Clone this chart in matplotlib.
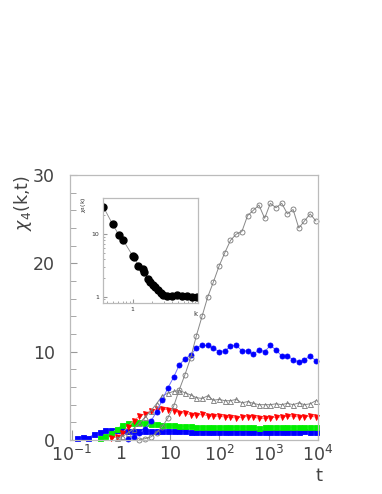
import numpy as np
import matplotlib.pyplot as plt
from matplotlib.ticker import FixedLocator, FixedFormatter, LogLocator, MultipleLocator, NullFormatter

plt.rcParams['font.family'] = ['DejaVu Sans']
plt.rcParams['mathtext.fontset'] = 'dejavusans'

# time grid (log-spaced samples)
t = 10 ** np.linspace(-0.9, 3.96, 43)

# series values, each starting at a grid index
blue_sq = [0.2, 0.3, 0.25, 0.65, 0.9, 1.1, 1.15, 1.15, 1.15, 1.0,
           1.0, 1.0, 0.98, 1.0, 1.0, 0.98, 0.97, 0.97, 0.97, 0.97,
           0.95, 0.95, 0.96, 0.95, 0.95, 0.96, 0.95, 0.95, 0.96, 0.95,
           0.95, 0.95, 0.9, 0.92, 0.95, 0.95, 0.92, 0.95, 0.95, 0.92,
           0.97, 0.95, 0.93]
green_sq = [0.2, 0.5, 0.75, 1.2, 1.7, 1.95, 1.95, 2.05, 1.95, 1.8,
            1.8, 1.7, 1.7, 1.65, 1.6, 1.55, 1.55, 1.5, 1.5, 1.5,
            1.45, 1.5, 1.45, 1.45, 1.45, 1.5, 1.45, 1.45, 1.4, 1.45,
            1.45, 1.5, 1.5, 1.45, 1.45, 1.5, 1.45, 1.5, 1.5]
red_tri = [0.2, 0.35, 0.8, 1.5, 2.2, 2.7, 3.0, 3.3, 3.5, 3.5,
           3.45, 3.3, 3.1, 3.05, 2.85, 2.8, 2.9, 2.75, 2.7, 2.7,
           2.6, 2.55, 2.5, 2.6, 2.65, 2.6, 2.45, 2.45, 2.5, 2.6,
           2.6, 2.7, 2.7, 2.6, 2.65, 2.7, 2.6]
gray_tri = [0.2, 0.4, 0.8, 1.3, 1.9, 2.6, 3.3, 4.1, 5.0, 5.3,
            5.5, 5.6, 5.35, 5.1, 4.8, 4.7, 5.0, 4.5, 4.6, 4.45,
            4.45, 4.6, 4.2, 4.35, 4.15, 4.0, 4.0, 4.0, 4.1, 4.0,
            4.15, 4.0, 4.2, 4.0, 4.1, 4.45]
blue_circ = [0.1, 0.3, 0.75, 1.3, 2.1, 3.2, 4.5, 5.9, 7.1, 8.5,
             9.2, 9.6, 10.4, 10.7, 10.7, 10.4, 10.0, 10.1, 10.6, 10.75,
             10.1, 10.1, 9.7, 10.2, 10.0, 10.7, 10.2, 9.5, 9.5, 9.1,
             8.8, 9.1, 9.5, 9.0]
gray_circ = [0.05, 0.15, 0.35, 0.8, 1.5, 2.5, 3.8, 5.7, 7.4, 9.3,
             11.8, 14.0, 16.2, 17.9, 19.7, 21.2, 22.6, 23.3, 23.6, 25.4,
             26.0, 26.6, 25.1, 26.8, 26.3, 26.8, 25.6, 26.1, 24.0, 24.8,
             25.6, 24.8]

# inset: chi4 plateau vs k
k_in = [0.353, 0.49, 0.61, 0.71, 1.0, 1.05, 1.22, 1.43, 1.49, 1.74,
        1.85, 2.03, 2.2, 2.48, 2.7, 2.96, 3.33, 3.98, 4.75, 5.67,
        6.76, 8.09, 9.66]
chi_in = [27.2, 14.4, 9.7, 8.0, 4.47, 4.25, 3.12, 2.73, 2.5, 1.9,
          1.73, 1.54, 1.41, 1.28, 1.13, 1.06, 1.01, 1.04, 1.06, 1.03,
          1.01, 1.0, 0.98]

xticks = [0.1, 1, 10, 100, 1000, 10000]
xticklabels = ['$10^{-1}$', '1', '10', '$10^{2}$', '$10^{3}$', '$10^{4}$']

fig = plt.figure(figsize=(3.82, 4.94), dpi=100)
ax = fig.add_axes([0.183, 0.1093, 0.649, 0.5364])

series = [
    (blue_sq, 0, 's', '#0000ff', '#0000ff', '#8080ff'),
    (green_sq, 4, 's', '#00ee00', '#00ee00', '#80e080'),
    (red_tri, 6, 'v', '#ff0000', '#ff0000', '#ff8080'),
    (gray_tri, 7, '^', 'none', '#777777', '#888888'),
    (blue_circ, 9, 'o', '#0000ff', '#0000ff', '#7070ff'),
    (gray_circ, 11, 'o', 'none', '#777777', '#888888'),
]
for vals, start, mk, fc, ec, lc in series:
    ax.plot(t[start:], vals, color=lc, lw=0.7, marker=mk, ms=3.6,
            mfc=fc, mec=ec, mew=0.6, clip_on=False)

ax.set_xscale('log')
ax.set_xlim(0.091, 1e4)
ax.set_ylim(0, 30)
ax.xaxis.set_major_locator(FixedLocator(xticks))
ax.xaxis.set_major_formatter(FixedFormatter(xticklabels))
ax.xaxis.set_minor_locator(LogLocator(base=10, subs=np.arange(2, 10)))
ax.xaxis.set_minor_formatter(NullFormatter())
ax.yaxis.set_major_locator(MultipleLocator(10))
ax.yaxis.set_minor_locator(MultipleLocator(2))
ax.tick_params(axis='both', which='both', direction='in', colors='#999999',
               labelcolor='#444444', labelsize=12.5)
ax.tick_params(axis='x', which='major', length=7, pad=3.5)
ax.tick_params(axis='x', which='minor', length=4)
ax.tick_params(axis='y', which='major', length=5, pad=11)
ax.tick_params(axis='y', which='minor', length=4)
for s in ax.spines.values():
    s.set_color('#bbbbbb')
    s.set_linewidth(0.9)

fig.text(23 / 382, 1 - 203 / 494, r'$\chi_4$(k,t)', rotation=90,
         ha='center', va='center', fontsize=12.5, color='#444444')
fig.text(319 / 382, 1 - 476 / 494, 't', ha='center', va='center',
         fontsize=13, color='#444444')

# inset
ins = fig.add_axes([0.2696, 0.3866, 0.2487, 0.2126])
ins.plot(k_in, chi_in, color='#888888', lw=0.6, marker='o', ms=5,
         mfc='black', mec='black')
ins.set_xscale('log')
ins.set_yscale('log')
ins.set_xlim(0.35, 10)
ins.set_ylim(0.79, 37.5)
ins.xaxis.set_major_locator(FixedLocator([1]))
ins.xaxis.set_major_formatter(FixedFormatter(['1']))
ins.xaxis.set_minor_locator(LogLocator(base=10, subs=np.arange(2, 10)))
ins.xaxis.set_minor_formatter(NullFormatter())
ins.yaxis.set_major_locator(FixedLocator([1, 10]))
ins.yaxis.set_major_formatter(FixedFormatter(['1', '10']))
ins.yaxis.set_minor_locator(LogLocator(base=10, subs=np.arange(2, 10)))
ins.yaxis.set_minor_formatter(NullFormatter())
ins.tick_params(axis='both', which='both', direction='in', colors='#999999',
                labelcolor='#333333', labelsize=4.5, pad=3)
ins.tick_params(which='major', length=3)
ins.tick_params(which='minor', length=1.5)
for s in ins.spines.values():
    s.set_color('#bbbbbb')
    s.set_linewidth(0.9)
fig.text(83 / 382, 1 - 205 / 494, r'$\chi_4$(k)', rotation=90,
         ha='center', va='center', fontsize=4.5, color='#333333')
fig.text(195 / 382, 1 - 314 / 494, 'k', ha='center', va='center',
         fontsize=5, color='#333333')

fig.savefig('out.png', dpi=100)
